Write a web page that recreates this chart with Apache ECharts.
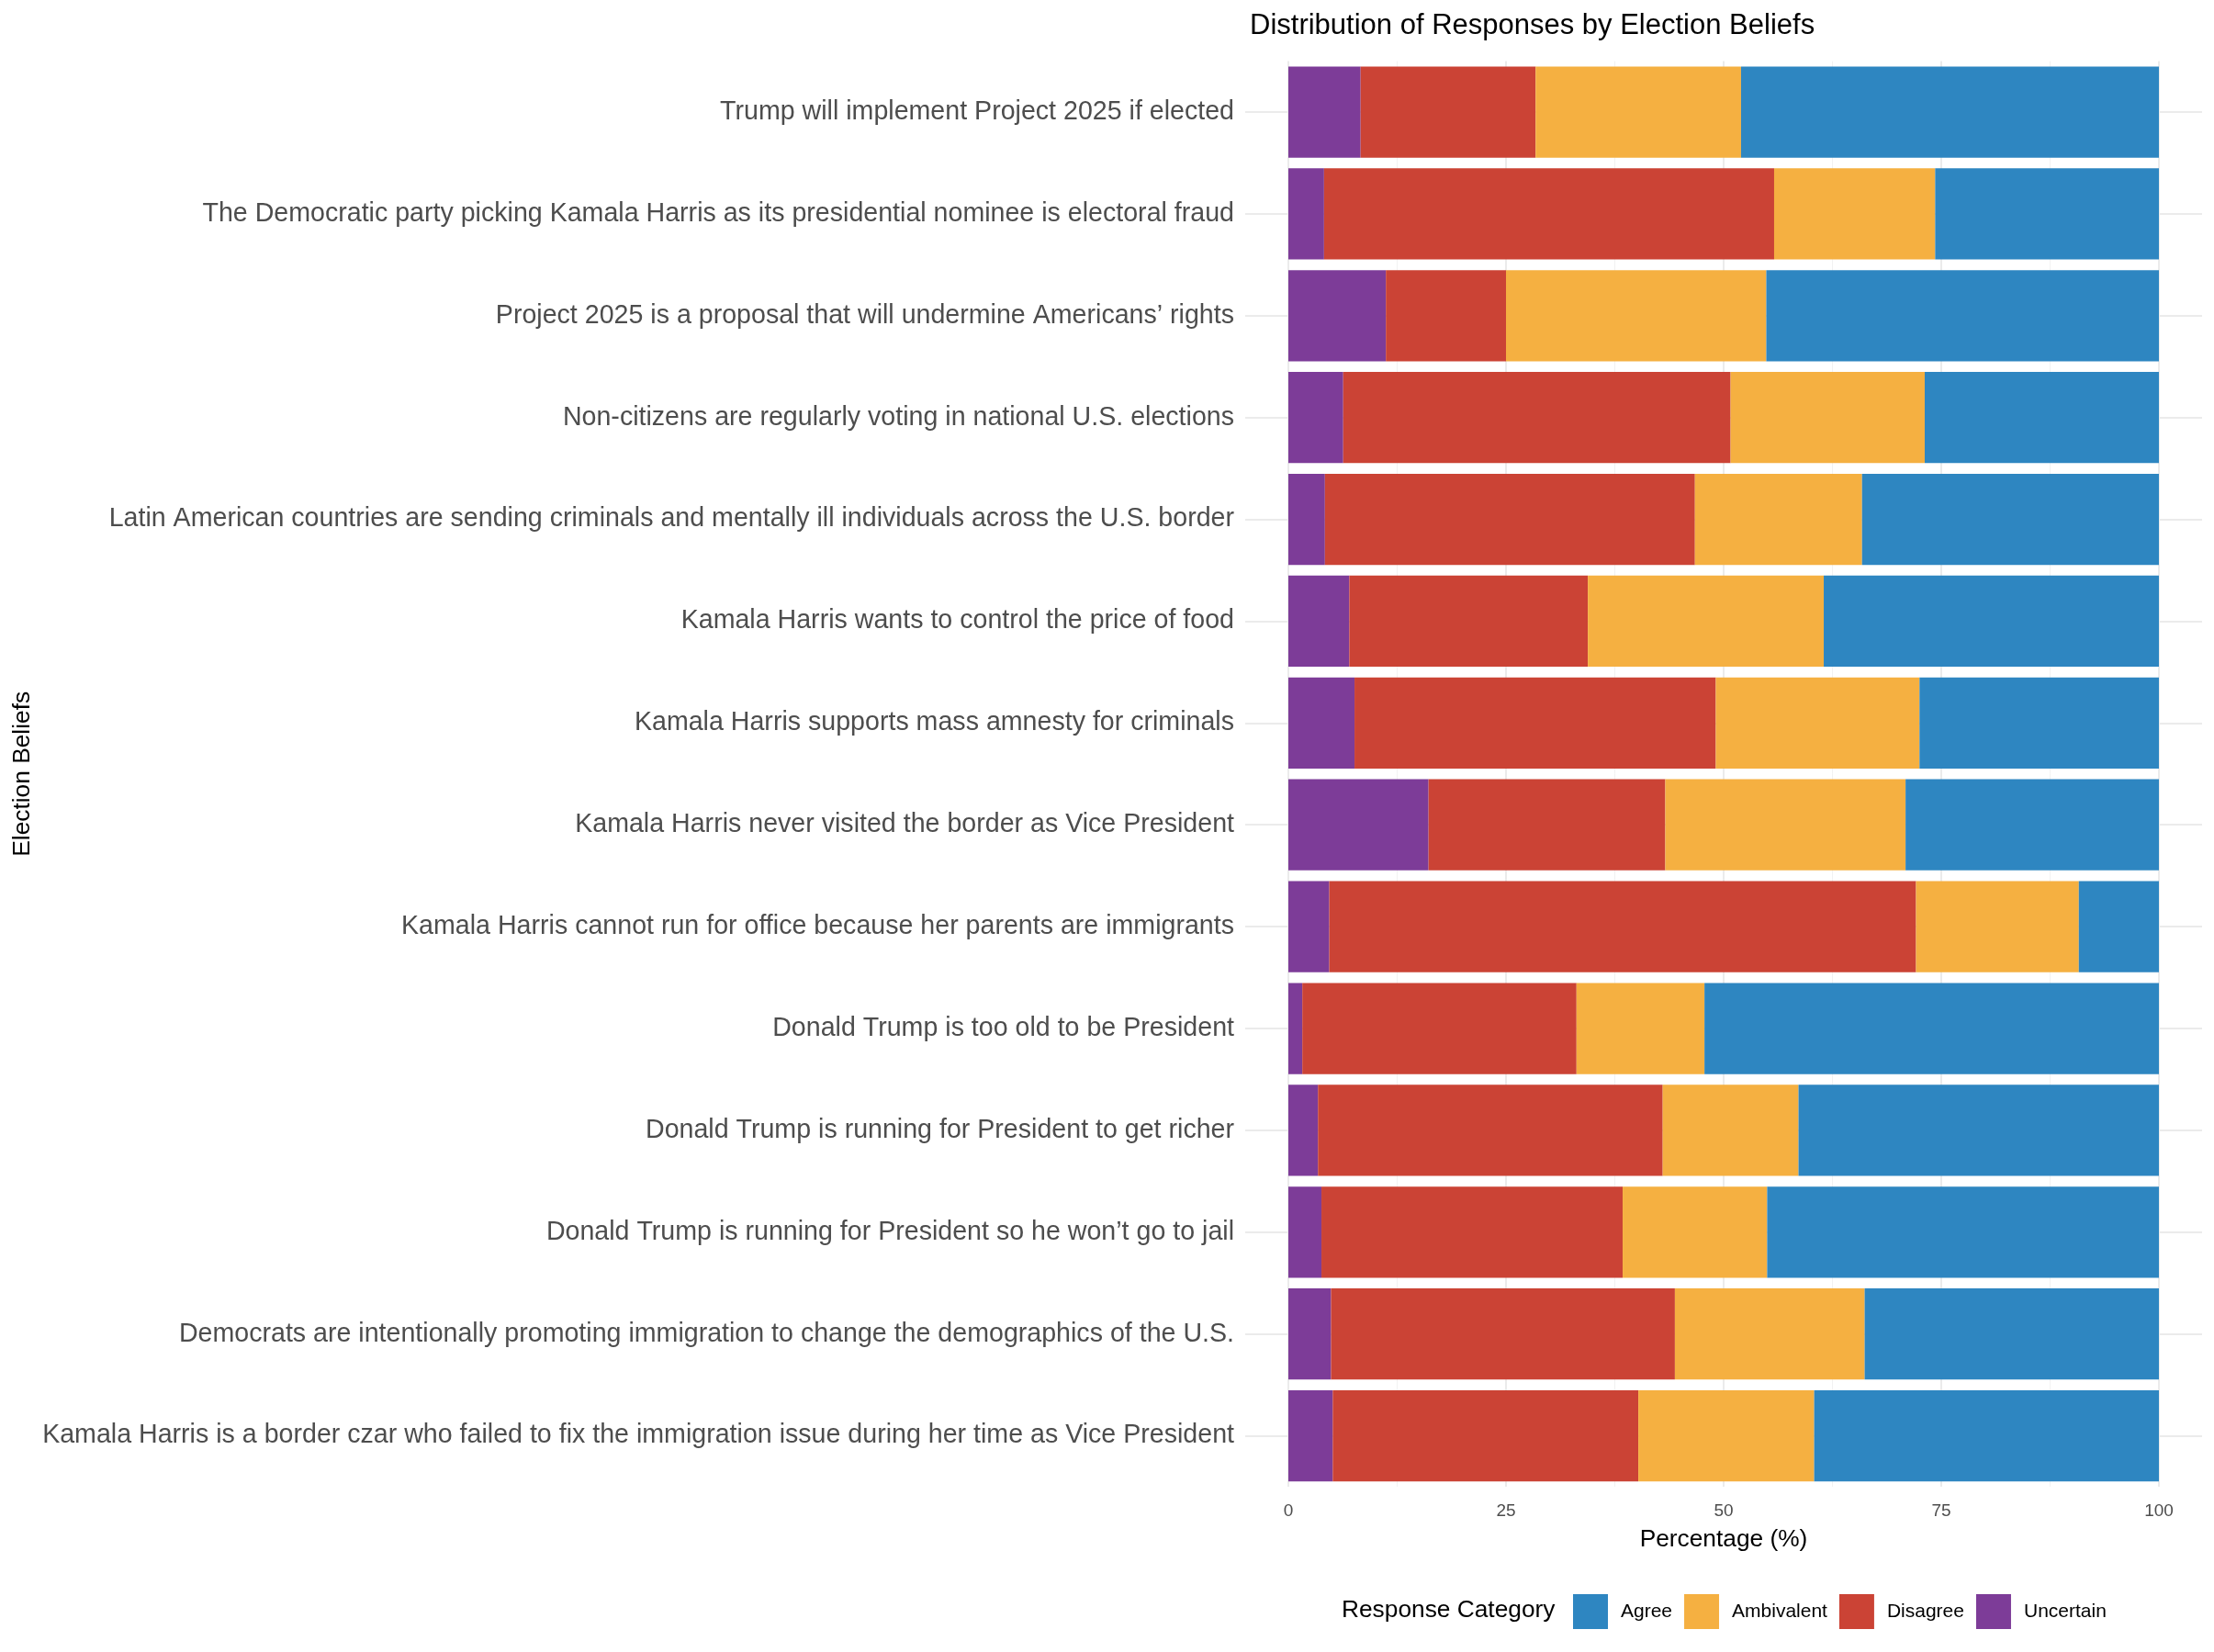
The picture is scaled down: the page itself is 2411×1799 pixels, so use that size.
<!DOCTYPE html>
<html>
<head>
<meta charset="utf-8">
<script src="https://cdn.jsdelivr.net/npm/echarts@6/dist/echarts.min.js"></script>
<style>
  html, body { margin: 0; padding: 0; background: #ffffff; }
  #chart { width: 2411px; height: 1799px; }
</style>
</head>
<body>
<div id="chart"></div>
<script>
// Categories, top to bottom as drawn
const categories = [
  "Trump will implement Project 2025 if elected",
  "The Democratic party picking Kamala Harris as its presidential nominee is electoral fraud",
  "Project 2025 is a proposal that will undermine Americans’ rights",
  "Non-citizens are regularly voting in national U.S. elections",
  "Latin American countries are sending criminals and mentally ill individuals across the U.S. border",
  "Kamala Harris wants to control the price of food",
  "Kamala Harris supports mass amnesty for criminals",
  "Kamala Harris never visited the border as Vice President",
  "Kamala Harris cannot run for office because her parents are immigrants",
  "Donald Trump is too old to be President",
  "Donald Trump is running for President to get richer",
  "Donald Trump is running for President so he won’t go to jail",
  "Democrats are intentionally promoting immigration to change the demographics of the U.S.",
  "Kamala Harris is a border czar who failed to fix the immigration issue during her time as Vice President"
];

// Percentages per category (same order)
const uncertain  = [8.3, 4.1, 11.2, 6.3, 4.2, 7.0, 7.6, 16.1, 4.7, 1.6, 3.4, 3.8, 4.9, 5.1];
const disagree   = [20.1, 51.7, 13.8, 44.5, 42.5, 27.4, 41.5, 27.2, 67.4, 31.5, 39.6, 34.6, 39.5, 35.1];
const ambivalent = [23.6, 18.5, 29.9, 22.3, 19.2, 27.1, 23.4, 27.6, 18.7, 14.7, 15.6, 16.6, 21.8, 20.2];
const agree      = [48.0, 25.7, 45.1, 26.9, 34.1, 38.5, 27.5, 29.1, 9.2, 52.2, 41.4, 45.0, 33.8, 39.6];

const legendOrder = ["Agree", "Ambivalent", "Disagree", "Uncertain"];
const xTicks = [0, 25, 50, 75, 100];

const colors = {
  Agree: "#2E86C1",
  Ambivalent: "#F5B041",
  Disagree: "#CB4335",
  Uncertain: "#7D3C98"
};

const FONT = "'Liberation Sans', Arial, Helvetica, sans-serif";
const chart = echarts.init(document.getElementById('chart'), null, { renderer: 'canvas' });

function barSeries(name, data) {
  return {
    name: name,
    type: 'bar',
    stack: 'total',
    xAxisIndex: 0,
    yAxisIndex: 0,
    barCategoryGap: '10.5%',
    data: data,
    itemStyle: { color: colors[name] },
    emphasis: { disabled: true },
    z: 5
  };
}

const option = {
  animation: false,
  backgroundColor: '#ffffff',
  textStyle: { fontFamily: FONT },
  title: {
    text: 'Distribution of Responses by Election Beliefs',
    left: 1356,
    top: 8,
    textStyle: { fontFamily: FONT, fontSize: 31, fontWeight: 'normal', color: '#000000' }
  },
  legend: {
    data: legendOrder,
    orient: 'horizontal',
    left: 1708,
    top: 1731,
    itemWidth: 38,
    itemHeight: 38,
    itemGap: 13,
    icon: 'rect',
    selectedMode: false,
    textStyle: { fontFamily: FONT, fontSize: 21, color: '#000000', padding: [0, 0, 0, 9] }
  },
  graphic: [
    {
      type: 'text',
      left: 1461,
      top: 1753 - 12,
      style: { text: 'Response Category', font: '26.3px ' + FONT, fill: '#000000' }
    }
  ],
  grid: [
    { left: 1403, right: 60, top: 66.6, bottom: 180, containLabel: false },
    { left: 1356, right: 13, top: 66.6, bottom: 180, containLabel: false }
  ],
  xAxis: [
    {
      type: 'value',
      gridIndex: 0,
      min: 0,
      max: 100,
      interval: 25,
      name: 'Percentage (%)',
      nameLocation: 'middle',
      nameGap: 45,
      nameTextStyle: { fontFamily: FONT, fontSize: 26.3, color: '#000000' },
      axisLine: { show: false },
      axisTick: { show: false },
      axisLabel: {
        margin: 17,
        fontSize: 19,
        color: '#4d4d4d',
        fontFamily: FONT,
        customValues: xTicks
      },
      splitLine: { show: true, lineStyle: { color: '#ebebeb', width: 2 } },
      minorTick: { show: false, splitNumber: 2 },
      minorSplitLine: { show: true, lineStyle: { color: '#f2f2f2', width: 1 } }
    },
    {
      type: 'value',
      gridIndex: 1,
      min: 0,
      max: 1,
      show: false
    }
  ],
  yAxis: [
    {
      type: 'category',
      gridIndex: 0,
      data: categories,
      inverse: true,
      name: 'Election Beliefs',
      nameLocation: 'middle',
      nameRotate: 90,
      nameGap: 1365,
      nameTextStyle: { fontFamily: FONT, fontSize: 26.3, color: '#000000' },
      axisLine: { show: false },
      axisTick: { show: false },
      axisLabel: { margin: 59, fontSize: 28.6, color: '#4d4d4d', fontFamily: FONT },
      splitLine: { show: false }
    },
    {
      type: 'category',
      gridIndex: 1,
      data: categories,
      inverse: true,
      show: false
    }
  ],
  series: [
    {
      name: 'gridlines',
      type: 'line',
      xAxisIndex: 1,
      yAxisIndex: 1,
      data: [],
      silent: true,
      z: 1,
      markLine: {
        silent: true,
        z: 1,
        zlevel: 0,
        symbol: 'none',
        label: { show: false },
        lineStyle: { color: '#ebebeb', width: 2, type: 'solid' },
        data: categories.map(c => ({ yAxis: c }))
      }
    },
    barSeries('Uncertain', uncertain),
    barSeries('Disagree', disagree),
    barSeries('Ambivalent', ambivalent),
    barSeries('Agree', agree)
  ]
};

chart.setOption(option);
</script>
</body>
</html>
